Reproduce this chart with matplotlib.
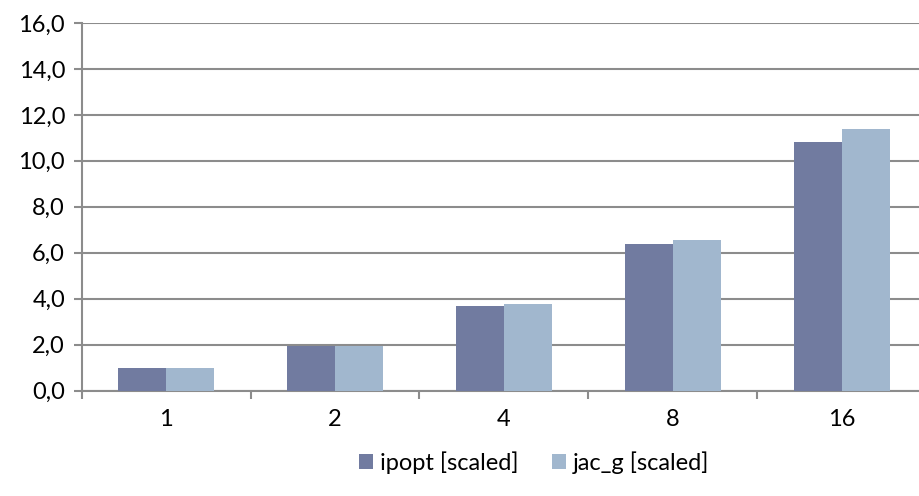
import matplotlib
matplotlib.use("Agg")
import matplotlib.pyplot as plt
import numpy as np
from matplotlib.ticker import FixedLocator, NullFormatter

categories = ["1", "2", "4", "8", "16"]
ipopt = [1.0, 1.93, 3.70, 6.40, 10.84]
jac_g = [1.0, 1.93, 3.76, 6.57, 11.39]
yticks = [0, 2, 4, 6, 8, 10, 12, 14, 16]
ytick_labels = ["0,0", "2,0", "4,0", "6,0", "8,0", "10,0", "12,0", "14,0", "16,0"]

plt.rcParams['font.family'] = ['Lato', 'DejaVu Sans']

fig = plt.figure(figsize=(9.19, 4.96), dpi=100)
ax = fig.add_axes([0.0889, 0.2127, 0.9187, 0.7409])

x = np.arange(len(categories))
w = 0.284
c1 = "#717BA0"
c2 = "#A1B7CE"
ax.bar(x - w/2, ipopt, width=w, color=c1, label="ipopt [scaled]", zorder=3)
ax.bar(x + w/2, jac_g, width=w, color=c2, label="jac_g [scaled]", zorder=3)

ax.set_xlim(-0.5, len(categories) - 0.5)
ax.set_ylim(0, 16)
ax.set_yticks(yticks)
ax.set_yticklabels(ytick_labels)
ax.yaxis.grid(True, color="#8C8C8C", linewidth=1.5, zorder=0)
ax.set_axisbelow(True)

ax.set_xticks(x)
ax.set_xticklabels(categories)
ax.tick_params(axis='x', which='major', length=0, pad=13, labelsize=17)
ax.xaxis.set_minor_locator(FixedLocator(np.arange(-0.5, len(categories), 1.0)))
ax.xaxis.set_minor_formatter(NullFormatter())
ax.tick_params(axis='x', which='minor', length=6, width=1.5, color="#8C8C8C", direction='out')
ax.tick_params(axis='y', length=6, width=1.5, color="#8C8C8C", direction='out', labelsize=17, pad=6)

for s in ["top", "right"]:
    ax.spines[s].set_visible(False)
for s in ["left", "bottom"]:
    ax.spines[s].set_color("#8C8C8C")
    ax.spines[s].set_linewidth(1.5)

leg = fig.legend(loc="center", bbox_to_anchor=(0.581, 0.068), ncol=2, frameon=False,
                 fontsize=17, handlelength=0.6, handleheight=0.6, handletextpad=0.3,
                 columnspacing=1.4)

fig.savefig("out.png", dpi=100)
